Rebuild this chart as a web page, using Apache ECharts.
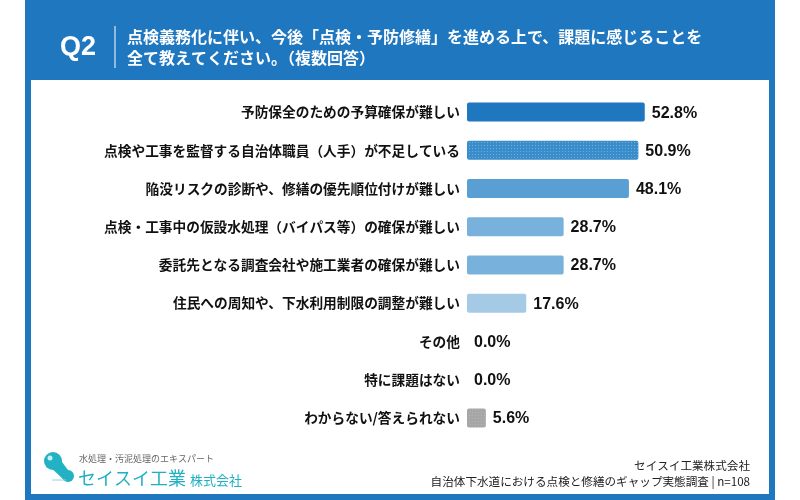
<!DOCTYPE html>
<html><head><meta charset="utf-8">
<script src="https://cdn.jsdelivr.net/npm/echarts@6/dist/echarts.min.js"></script>
<style>html,body{margin:0;padding:0;background:#fff}#c{width:800px;height:500px}</style>
</head><body><div id="c"></div>
<script>
const categories = [
  '予防保全のための予算確保が難しい',
  '点検や工事を監督する自治体職員（人手）が不足している',
  '陥没リスクの診断や、修繕の優先順位付けが難しい',
  '点検・工事中の仮設水処理（バイパス等）の確保が難しい',
  '委託先となる調査会社や施工業者の確保が難しい',
  '住民への周知や、下水利用制限の調整が難しい',
  'その他',
  '特に課題はない',
  'わからない/答えられない'
];
const values = [52.8, 50.9, 48.1, 28.7, 28.7, 17.6, 0.0, 0.0, 5.6];
const barColors = ['#1f77c0', '#3a8ccb', '#5a9fd4', '#78b1dc', '#78b1dc', '#a5cae5', '#a5cae5', '#a5cae5', '#a6a6a6'];
const dotColors = [null, '#68b2dd', null, null, null, null, null, null, '#b4b4b4'];
const titleLines = ['点検義務化に伴い、今後「点検・予防修繕」を進める上で、課題に感じることを', '全て教えてください。（複数回答）'];
const sourceLines = ['セイスイ工業株式会社', '自治体下水道における点検と修繕のギャップ実態調査 | n=108'];

const FONT = '"Noto Sans CJK JP", "Noto Sans", sans-serif';
const NUMFONT = '"Liberation Sans", Arial, sans-serif';

function dotPattern(base, dot) {
  const c = document.createElement('canvas');
  c.width = 3; c.height = 3;
  const g = c.getContext('2d');
  g.fillStyle = base; g.fillRect(0, 0, 3, 3);
  g.fillStyle = dot; g.fillRect(1, 1, 1, 1);
  return {image: c, repeat: 'repeat'};
}

const chart = echarts.init(document.getElementById('c'), null, {renderer: 'canvas'});

const data = values.map((v, i) => ({
  value: v,
  itemStyle: {color: dotColors[i] ? dotPattern(barColors[i], dotColors[i]) : barColors[i]}
}));

chart.setOption({
  backgroundColor: '#ffffff',
  animation: false,
  graphic: [
    {type: 'rect', shape: {x: 25, y: 0, width: 750, height: 500}, style: {fill: '#1f77c0'}, z: -10},
    {type: 'rect', shape: {x: 31, y: 80, width: 738, height: 414}, style: {fill: '#ffffff'}, z: -9},
    {type: 'text', x: 60, y: 48, style: {text: 'Q2', fill: '#fff', font: 'bold 27px ' + NUMFONT, textVerticalAlign: 'middle'}},
    {type: 'line', shape: {x1: 115, y1: 26, x2: 115, y2: 68}, style: {stroke: '#fff', lineWidth: 1}},
    {type: 'text', x: 127, y: 37, style: {text: titleLines[0], fill: '#fff', font: 'bold 16px ' + FONT, textVerticalAlign: 'middle'}},
    {type: 'text', x: 127, y: 58, style: {text: titleLines[1], fill: '#fff', font: 'bold 16px ' + FONT, textVerticalAlign: 'middle'}},
    // logo
    {type: 'polygon', shape: {points: [[47, 464], [59, 458], [71, 474], [64, 480]]}, style: {fill: '#22b2c3'}},
    {type: 'circle', shape: {cx: 53, cy: 461, r: 9}, style: {fill: '#22b2c3'}},
    {type: 'circle', shape: {cx: 68, cy: 476, r: 6}, style: {fill: '#22b2c3'}},
    {type: 'circle', shape: {cx: 50, cy: 458, r: 2.5}, style: {fill: '#c9f0f5'}},
    {type: 'line', shape: {x1: 52, y1: 480, x2: 66, y2: 480}, style: {stroke: '#8fd6df', lineWidth: 1}},
    {type: 'text', x: 79, y: 459, style: {text: '水処理・汚泥処理のエキスパート', fill: '#666', font: '9px ' + FONT, textVerticalAlign: 'middle'}},
    {type: 'text', x: 78, y: 478, style: {text: 'セイスイ工業', fill: '#1fb0c2', font: '18px ' + FONT, textVerticalAlign: 'middle'}},
    {type: 'text', x: 190, y: 480, style: {text: '株式会社', fill: '#1fb0c2', font: '13px ' + FONT, textVerticalAlign: 'middle'}},
    {type: 'text', x: 750, y: 466, style: {text: sourceLines[0], fill: '#222', font: '11.6px ' + FONT, textAlign: 'right', textVerticalAlign: 'middle'}},
    {type: 'text', x: 750, y: 482, style: {text: sourceLines[1], fill: '#222', font: '11.6px ' + FONT, textAlign: 'right', textVerticalAlign: 'middle'}}
  ],
  grid: {left: 467, top: 93, width: 202, height: 344, containLabel: false},
  xAxis: {type: 'value', min: 0, max: 60, show: false},
  yAxis: {
    type: 'category', data: categories, inverse: true,
    axisLine: {show: false}, axisTick: {show: false},
    axisLabel: {color: '#111', fontFamily: FONT, fontWeight: 'bold', fontSize: 13.7, margin: 7}
  },
  series: [{
    type: 'bar', data: data, barWidth: 19,
    itemStyle: {borderRadius: 2},
    label: {show: true, position: 'right', distance: 7, offset: [0, 1], color: '#111', fontFamily: NUMFONT, fontWeight: 'bold', fontSize: 16,
      formatter: p => p.value.toFixed(1) + '%'}
  }]
});
</script></body></html>
